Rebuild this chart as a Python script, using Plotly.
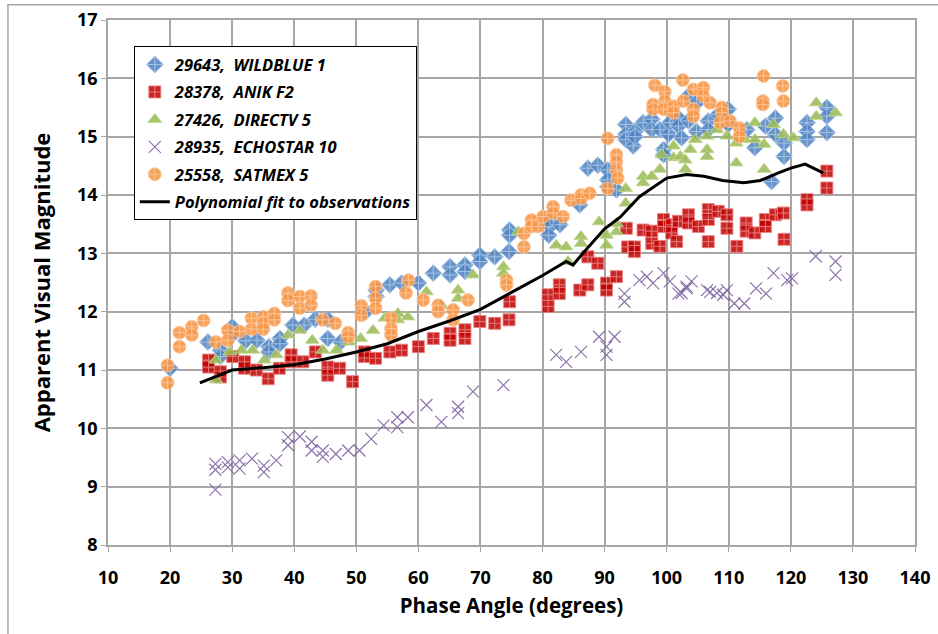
import plotly.graph_objects as go

# ---------------- data ----------------
wildblue_x = [20.0, 26.1, 28.1, 28.1, 30.0, 30.0, 32.2, 34.0, 35.9, 35.9, 37.7, 37.7, 39.8, 41.6, 43.4,
              45.4, 45.4, 47.5, 51.5, 53.2, 53.2, 55.4, 57.3, 60.0, 62.4, 65.1, 65.1, 67.5, 67.5, 69.9,
              69.9, 72.3, 74.6, 74.7, 74.7, 81.2, 81.2, 81.0, 82.8, 86.0, 87.3, 88.9, 90.5, 90.5, 90.5,
              91.9, 93.4, 93.4, 93.4, 94.6, 94.9, 94.9, 96.2, 97.6, 97.6, 98.9, 99.5, 99.5, 100.3, 100.5,
              101.9, 101.9, 102.4, 103.5, 103.5, 104.8, 104.8, 106.7, 106.7, 108.3, 109.9, 109.9, 112.9,
              114.2, 115.9, 117.5, 117.5, 118.9, 118.9, 116.9, 122.6, 122.6, 122.6, 125.8, 125.8, 125.8]
wildblue_y = [11.03, 11.48, 11.34, 11.23, 11.74, 11.60, 11.50, 11.51, 11.40, 11.31, 11.54, 11.45, 11.77, 11.77, 11.87,
              11.87, 11.54, 11.48, 12.00, 12.26, 12.37, 12.46, 12.49, 12.49, 12.66, 12.77, 12.63, 12.80, 12.69, 12.97,
              12.86, 12.94, 13.03, 13.40, 13.31, 13.57, 13.46, 13.31, 13.49, 13.83, 14.46, 14.51, 14.43, 14.26, 14.14,
              14.09, 15.21, 15.04, 14.95, 14.84, 15.09, 15.00, 15.24, 15.30, 15.12, 15.12, 14.78, 14.69, 15.04, 15.24,
              15.32, 15.18, 14.98, 15.70, 15.27, 15.58, 15.09, 15.27, 15.12, 15.38, 15.47, 15.21, 15.12,
              14.81, 15.18, 15.32, 15.04, 14.89, 14.66, 14.23, 15.24, 15.09, 14.95, 15.50, 15.35, 15.07]

anik_x = [26.2, 26.2, 28.1, 28.1, 30.1, 32.0, 32.0, 33.9, 35.8, 37.6, 39.5, 39.5, 41.4, 43.4, 45.4, 45.4,
          47.3, 49.4, 51.3, 51.3, 53.1, 55.4, 57.3, 60.0, 62.4, 65.1, 65.1, 67.5, 67.5, 69.9, 72.3, 74.6,
          74.7, 80.9, 80.9, 82.7, 82.7, 86.0, 87.3, 87.3, 88.9, 90.3, 90.3, 91.9, 93.5, 93.7, 94.8, 94.8,
          96.2, 97.6, 97.6, 98.9, 99.5, 99.5, 100.8, 100.8, 101.6, 101.9, 103.5, 103.5, 105.1, 106.7, 106.7,
          106.7, 108.3, 109.7, 109.7, 111.3, 112.8, 112.8, 114.2, 115.9, 115.9, 117.5, 118.8, 118.9,
          122.6, 122.6, 125.8, 125.8]
anik_y = [11.17, 11.05, 10.97, 10.88, 11.23, 11.03, 11.14, 11.00, 10.85, 11.03, 11.26, 11.14, 11.14, 11.31, 11.05, 10.91,
          11.03, 10.80, 11.23, 11.31, 11.20, 11.31, 11.34, 11.40, 11.54, 11.63, 11.51, 11.69, 11.54, 11.83, 11.80, 11.86,
          12.17, 12.29, 12.09, 12.46, 12.31, 12.37, 12.94, 12.46, 12.83, 12.49, 12.37, 12.60, 13.43, 13.11, 13.11, 13.03,
          13.40, 13.38, 13.17, 13.12, 13.58, 13.46, 13.49, 13.35, 13.20, 13.55, 13.66, 13.52, 13.46, 13.75, 13.58,
          13.20, 13.72, 13.66, 13.43, 13.12, 13.52, 13.38, 13.35, 13.58, 13.46, 13.66, 13.69, 13.24,
          13.92, 13.83, 14.41, 14.12]

directv_x = [27.4, 27.4, 29.6, 31.5, 33.3, 35.2, 37.1, 39.0, 40.9, 42.9, 44.6, 46.8, 48.8, 50.7, 52.7, 54.6,
             56.7, 56.7, 58.3, 61.3, 63.7, 66.4, 66.4, 68.8, 73.7, 73.7, 76.1, 82.2, 83.8, 84.1, 86.2, 86.2,
             89.1, 90.3, 90.3, 91.9, 91.9, 93.4, 93.4, 96.2, 96.2, 97.6, 98.9, 99.2, 101.1, 101.1, 102.2,
             103.0, 103.0, 103.8, 104.6, 106.5, 106.5, 106.5, 108.1, 109.7, 111.2, 111.2, 112.6, 114.2, 114.2,
             115.7, 115.7, 117.2, 118.8, 120.4, 124.1, 124.1, 127.2]
directv_y = [11.17, 10.83, 11.31, 11.34, 11.34, 11.17, 11.26, 11.60, 11.68, 11.51, 11.34, 11.34, 11.48, 11.54, 11.68, 11.89,
             11.97, 11.86, 11.91, 12.34, 12.11, 12.37, 12.23, 12.63, 12.77, 12.66, 13.37, 13.14, 13.11, 12.86, 13.29, 13.17,
             13.54, 13.31, 13.14, 13.51, 13.37, 14.11, 13.86, 14.32, 14.21, 14.32, 14.44, 14.69, 14.84, 14.64, 14.66,
             14.60, 14.44, 14.78, 14.95, 14.78, 14.66, 15.01, 15.12, 15.01, 14.89, 14.55, 14.95, 15.24, 14.95,
             14.87, 14.44, 15.21, 15.04, 14.98, 15.58, 15.35, 15.41]

echostar_x = [27.3, 27.3, 27.3, 29.3, 29.3, 31.2, 31.2, 33.2, 35.1, 35.1, 37.1, 39.0, 39.0, 40.9, 42.8, 42.8,
              44.6, 44.6, 46.7, 48.7, 50.5, 52.4, 54.4, 56.6, 56.6, 58.3, 61.3, 63.7, 66.4, 66.4, 68.8, 73.7,
              82.2, 83.8, 86.2, 89.1, 90.3, 90.3, 91.6, 93.2, 93.2, 95.6, 96.8, 97.8, 99.5, 100.5, 101.9, 102.4,
              103.2, 103.2, 104.0, 106.5, 107.0, 108.1, 109.1, 109.7, 110.9, 112.5, 114.4, 116.0, 117.2, 119.4,
              120.2, 124.0, 127.2, 127.2]
echostar_y = [9.39, 9.29, 8.95, 9.42, 9.33, 9.45, 9.31, 9.48, 9.36, 9.25, 9.45, 9.85, 9.71, 9.86, 9.77, 9.62,
              9.62, 9.51, 9.56, 9.62, 9.62, 9.82, 10.05, 10.19, 10.02, 10.19, 10.40, 10.11, 10.37, 10.26, 10.63, 10.74,
              11.26, 11.14, 11.31, 11.57, 11.40, 11.26, 11.57, 12.31, 12.17, 12.54, 12.60, 12.49, 12.66, 12.52, 12.31, 12.32,
              12.43, 12.40, 12.52, 12.37, 12.34, 12.32, 12.29, 12.37, 12.14, 12.14, 12.40, 12.31, 12.66, 12.54,
              12.57, 12.95, 12.86, 12.63]

satmex_x = [19.6, 19.6, 21.5, 21.5, 23.5, 23.5, 25.4, 27.4, 29.3, 29.3, 31.2, 33.1, 33.1, 35.0, 35.0, 35.0,
            36.8, 36.8, 39.0, 39.0, 40.9, 40.9, 42.7, 42.7, 44.6, 46.6, 48.7, 48.7, 50.8, 50.8, 53.1, 53.1, 53.1,
            55.6, 55.6, 55.6, 58.0, 58.4, 60.8, 63.2, 63.2, 65.6, 65.6, 68.0, 74.2, 74.2, 77.0, 77.0, 78.2, 78.2,
            79.3, 80.1, 81.7, 81.7, 83.3, 84.6, 86.2, 86.2, 87.6, 90.5, 90.5, 91.9, 91.9, 91.9, 92.1, 98.1, 97.8,
            97.8, 99.7, 99.7, 99.5, 101.1, 101.1, 102.6, 102.7, 104.3, 104.3, 104.3, 105.9, 105.9, 107.0, 108.9,
            108.9, 108.6, 110.2, 111.7, 111.7, 115.6, 115.5, 115.5, 118.7, 118.8]
satmex_y = [11.08, 10.78, 11.64, 11.40, 11.74, 11.60, 11.85, 11.48, 11.68, 11.51, 11.66, 11.89, 11.70, 11.91, 11.80, 11.70,
            11.97, 11.86, 12.32, 12.19, 12.26, 12.06, 12.27, 12.11, 11.86, 11.80, 11.64, 11.57, 12.10, 11.94, 12.43, 12.23, 12.06,
            11.89, 11.71, 11.60, 12.32, 12.54, 12.20, 12.11, 12.00, 12.03, 11.86, 12.20, 12.54, 12.46, 13.11, 13.34, 13.57, 13.46,
            13.46, 13.63, 13.80, 13.69, 13.63, 13.91, 14.00, 13.94, 14.03, 14.97, 14.11, 14.69, 14.57, 14.43, 14.29, 15.88, 15.55,
            15.47, 15.77, 15.61, 15.47, 15.52, 15.41, 15.97, 15.61, 15.81, 15.47, 15.35, 15.84, 15.70, 15.58, 15.50,
            15.41, 15.24, 15.27, 15.15, 15.00, 16.04, 15.61, 15.55, 15.87, 15.61]

fit_x = [24.8, 30, 35, 40, 45, 50, 55, 60, 65, 70, 75, 80, 83.8, 84.9, 86.5, 90, 92.5, 95.6,
         100, 103.2, 106, 109, 112.4, 115.1, 118, 120, 122.3, 125.2]
fit_y = [10.78, 11.0, 11.04, 11.09, 11.19, 11.31, 11.45, 11.66, 11.84, 12.04, 12.33, 12.62, 12.86, 12.80, 13.0,
         13.42, 13.62, 13.97, 14.29, 14.35, 14.32, 14.25, 14.21, 14.25, 14.38, 14.46, 14.53, 14.38]

x_ticks = list(range(10, 141, 10))
y_ticks = list(range(8, 18))

series_names = ["29643,\u00a0\u00a0WILDBLUE 1", "28378,\u00a0\u00a0ANIK F2", "27426,\u00a0\u00a0DIRECTV 5",
                "28935,\u00a0\u00a0ECHOSTAR 10", "25558,\u00a0\u00a0SATMEX 5"]
fit_name = "Polynomial fit to observations"

FONT = "'Open Sans', Lato, sans-serif"

fig = go.Figure()

def lab(s):
    return "<b><i>" + s + "</i></b>"

fig.add_trace(go.Scatter(x=wildblue_x, y=wildblue_y, mode="markers", name=lab(series_names[0]),
                         legendgroup="a",
                         marker=dict(symbol="diamond-cross", size=13, color="rgba(79,129,189,0.85)",
                                     line=dict(color="rgba(170,200,235,0.9)", width=1))))
fig.add_trace(go.Scatter(x=anik_x, y=anik_y, mode="markers", name=lab(series_names[1]),
                         legendgroup="b",
                         marker=dict(symbol="square-cross", size=12, color="rgba(192,0,0,0.85)",
                                     line=dict(color="rgba(235,130,130,0.9)", width=1))))
fig.add_trace(go.Scatter(x=directv_x, y=directv_y, mode="markers", name=lab(series_names[2]),
                         legendgroup="c",
                         marker=dict(symbol="triangle-up", size=12, color="rgba(155,187,89,0.88)",
                                     line=dict(color="rgba(190,215,140,0.9)", width=1))))
fig.add_trace(go.Scatter(x=echostar_x, y=echostar_y, mode="markers", name=lab(series_names[3]),
                         legendgroup="d",
                         marker=dict(symbol="x-thin", size=12, color="#8064A2",
                                     line=dict(color="rgba(128,100,162,0.9)", width=1.2))))
fig.add_trace(go.Scatter(x=satmex_x, y=satmex_y, mode="markers", name=lab(series_names[4]),
                         legendgroup="e",
                         marker=dict(symbol="circle-cross", size=13, color="rgba(247,150,70,0.88)",
                                     line=dict(color="rgba(252,200,160,0.9)", width=1))))
fig.add_trace(go.Scatter(x=fit_x, y=fit_y, mode="lines", name=lab(fit_name), legendgroup="f",
                         line=dict(color="black", width=3)))

axis_common = dict(showgrid=True, gridcolor="#a6a6a6", gridwidth=1.5, showline=True, linecolor="#a6a6a6",
                   linewidth=1.5, ticks="outside", ticklen=5, tickcolor="#a6a6a6", zeroline=False,
                   automargin=False,
                   tickfont=dict(family=FONT, size=18, color="black", weight="bold"))

fig.update_xaxes(range=[10, 140], tickvals=x_ticks, ticklabelstandoff=11, mirror=True,
                 title=dict(text="<b>Phase Angle (degrees)</b>", font=dict(family=FONT, size=20.5, color="black"),
                            standoff=10),
                 **axis_common)
fig.update_yaxes(range=[8, 17], tickvals=y_ticks, mirror=True,
                 title=dict(text="<b>Apparent Visual Magnitude</b>", font=dict(family=FONT, size=22, color="black"),
                            standoff=20),
                 **axis_common)

fig.update_layout(
    width=938, height=634,
    margin=dict(l=108, r=23, t=20, b=89),
    plot_bgcolor="white", paper_bgcolor="white",
    font=dict(family=FONT, color="black"),
    legend=dict(x=0.032, y=0.95, xanchor="left", yanchor="top", bgcolor="white",
                bordercolor="black", borderwidth=1, tracegroupgap=3,
                font=dict(family=FONT, size=16.5, color="black")),
    shapes=[dict(type="rect", xref="paper", yref="paper", x0=-0.124, x1=1.1, y0=-0.3, y1=1.029,
                 line=dict(color="#a6a6a6", width=1.5), fillcolor="rgba(0,0,0,0)", layer="below")],
)

fig.write_html("out.html", config={"displayModeBar": False},
               post_script="document.body.style.margin='0';document.body.style.padding='0';")
